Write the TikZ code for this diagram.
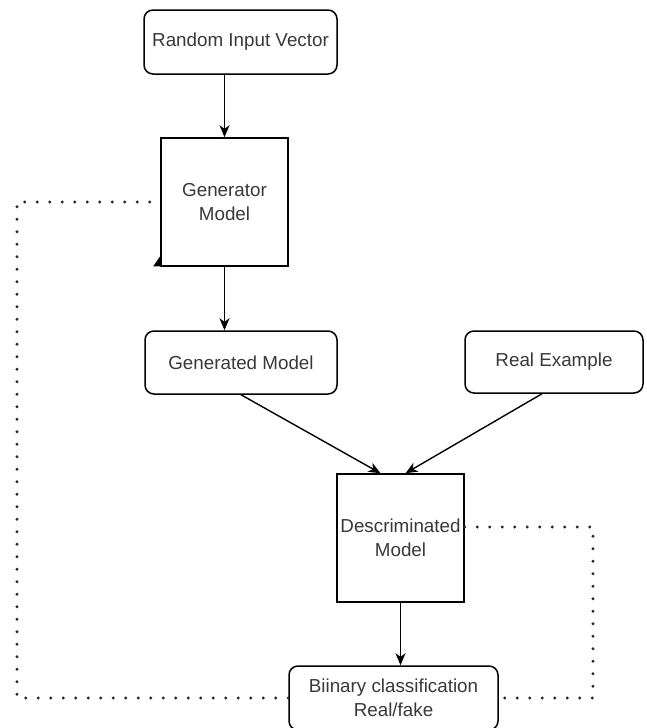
\documentclass[tikz,border=0pt]{standalone}
\usepackage{fontspec}
\setmainfont{Liberation Sans}
\usetikzlibrary{arrows.meta}
\begin{document}
\begin{tikzpicture}[x=1pt,y=-1pt,
  every node/.style={text=black!78, font=\fontsize{18.8}{23.5}\selectfont, align=center, inner sep=0pt},
  roundbox/.style={draw=black, line width=1.5pt, rounded corners=9pt},
  squarebox/.style={draw=black, line width=1.5pt},
  flow/.style={line width=1.4pt, -{Stealth[length=12pt,width=10pt,inset=3.5pt]}},
  dotline/.style={line width=3.3pt, line cap=round, dash pattern=on 0pt off 12.5pt, black!85}
]
\useasboundingbox (0,0) rectangle (646,728);
\clip (0,0) rectangle (646,728);

% boxes
\node[roundbox, minimum width=193pt, minimum height=64pt] (rin) at (240.5,42) {Random Input Vector};
\node[squarebox, minimum width=127pt, minimum height=128pt] (gen) at (224.5,202) {Generator\\Model};
\node[roundbox, minimum width=192pt, minimum height=63pt] (gm) at (241,362.5) {Generated Model};
\node[roundbox, minimum width=178pt, minimum height=62pt] (re) at (554,362) {Real Example};
\node[squarebox, minimum width=127pt, minimum height=128pt] (desc) at (400.5,538) {Descriminated\\Model};
\node[roundbox, minimum width=209pt, minimum height=64pt] (bin) at (393.5,698) {Biinary classification\\Real/fake};

% main flow
\draw[flow] (gen.north |- rin.south) -- (gen.north);
\draw[flow] (gen.south) -- (gen.south |- gm.north);
\draw[flow] (gm.south) -- ([xshift=-20pt]desc.north);
\draw[flow] ([xshift=-12pt]re.south) -- ([xshift=5pt]desc.north);
\draw[flow] (desc.south) -- (desc.south |- bin.north);

% feedback loops
\coordinate (lb) at (17,698);
\coordinate (lt) at (17,202);
\coordinate (rt) at (593,527);
\coordinate (rb) at (593,698);
\draw[dotline] (bin.west) -- (lb) -- (lt) -- (gen.west);
\draw[dotline] ([yshift=11pt]desc.east) -- (rt) -- (rb) -- (bin.east);

% small arrow tip at the generator's lower left corner
\fill[black] ([xshift=-7pt,yshift=0.5pt]gen.south west) -- ([xshift=-0.5pt,yshift=10pt]gen.south west) -- ([xshift=-0.5pt,yshift=0.5pt]gen.south west) -- cycle;
\end{tikzpicture}
\end{document}
